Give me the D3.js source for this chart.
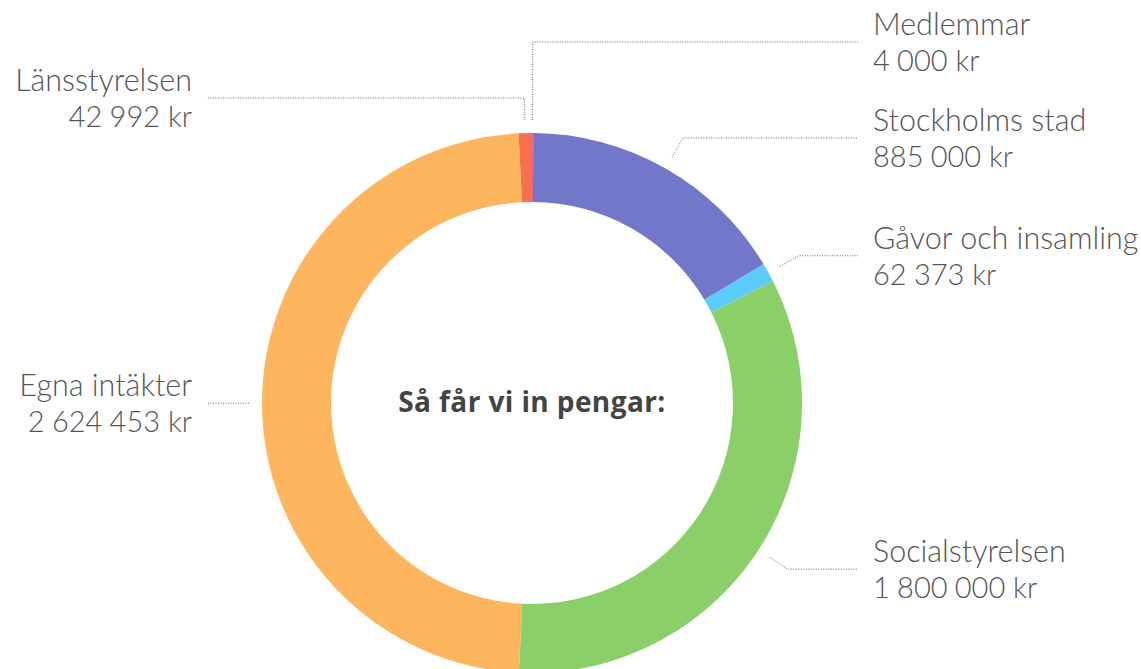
<!DOCTYPE html>
<html>
<head>
<meta charset="utf-8">
<script src="https://cdn.jsdelivr.net/npm/d3@7"></script>
<style>
  body { margin: 0; background: #fff; }
  .name { font-family: Lato, "Open Sans", sans-serif; font-weight: 300; font-size: 30.5px; fill: #555; }
  .value { font-family: Lato, "Open Sans", sans-serif; font-weight: 300; font-size: 29px; fill: #555; }
  .title { font-family: "Open Sans", Lato, sans-serif; font-weight: 700; font-size: 28px; letter-spacing: 0.4px; fill: #444; }
  .leader { fill: none; stroke: #666; stroke-width: 1; stroke-dasharray: 1,1.5; }
</style>
</head>
<body>
<svg class="chart" width="1141" height="669"></svg>
<script>
var sources = ["Medlemmar", "Stockholms stad", "Gåvor och insamling", "Socialstyrelsen", "Egna intäkter", "Länsstyrelsen"];
var amounts = [4000, 885000, 62373, 1800000, 2624453, 42992];
var colors = ["#e9637a", "#7377c9", "#5ccdfb", "#8bcf69", "#fdb55e", "#f8704f"];
var title = "Så får vi in pengar:";

var WIDTH = 1141, HEIGHT = 669;
var CX = 532, CY = 403;
var OUTER = 270, INNER = 201;
var R1 = 283, R2 = 305;
var GAP = 96;

var sv = d3.formatLocale({decimal: ",", thousands: "\u202f", grouping: [3], currency: ["", " kr"]});
var fmt = function(v){ return sv.format(",d")(v) + " kr"; };

var data = sources.map(function(s, i){ return {name: s, value: amounts[i], color: colors[i]}; });

var pie = d3.pie().sort(null).value(function(d){ return d.value; });
var arc = d3.arc().innerRadius(INNER).outerRadius(OUTER);
var arcs = pie(data);

var svg = d3.select('.chart');
var g = svg.append('g').attr('transform', 'translate(' + CX + ',' + CY + ')');

g.selectAll('path.slice')
  .data(arcs)
  .enter()
  .append('path')
  .classed('slice', true)
  .attr('d', arc)
  .attr('fill', function(d){ return d.data.color; });

// label anchors
var labels = arcs.map(function(d){
  var a = (d.startAngle + d.endAngle) / 2;
  return {
    d: d,
    a: a,
    right: Math.sin(a) > 0,
    x1: R1 * Math.sin(a), y1: -R1 * Math.cos(a),
    x2: R2 * Math.sin(a), y: -R2 * Math.cos(a)
  };
});

// push overlapping labels upward on each side
[true, false].forEach(function(side){
  var grp = labels.filter(function(l){ return l.right === side; })
    .sort(function(a, b){ return b.y - a.y; });
  for (var i = 1; i < grp.length; i++) {
    if (grp[i-1].y - grp[i].y < GAP) grp[i].y = grp[i-1].y - GAP;
  }
});

var lineEndR = 858 - CX, lineEndL = 207 - CX;

g.selectAll('path.leader')
  .data(labels)
  .enter()
  .append('path')
  .classed('leader', true)
  .attr('d', function(l){
    var xe = l.right ? lineEndR : lineEndL;
    return d3.line()([[l.x1, l.y1], [l.x2, l.y], [xe, l.y]]);
  });

var lab = g.selectAll('g.label')
  .data(labels)
  .enter()
  .append('g')
  .classed('label', true)
  .attr('transform', function(l){
    return 'translate(' + (l.right ? lineEndR + 15 : lineEndL - 15) + ',' + l.y + ')';
  })
  .attr('text-anchor', function(l){ return l.right ? 'start' : 'end'; });

lab.append('text').classed('name', true).attr('y', -7).text(function(l){ return l.d.data.name; });
lab.append('text').classed('value', true).attr('y', 29).text(function(l){ return fmt(l.d.data.value); });

g.append('text')
  .classed('title', true)
  .attr('text-anchor', 'middle')
  .attr('y', 9)
  .text(title);
</script>
</body>
</html>
